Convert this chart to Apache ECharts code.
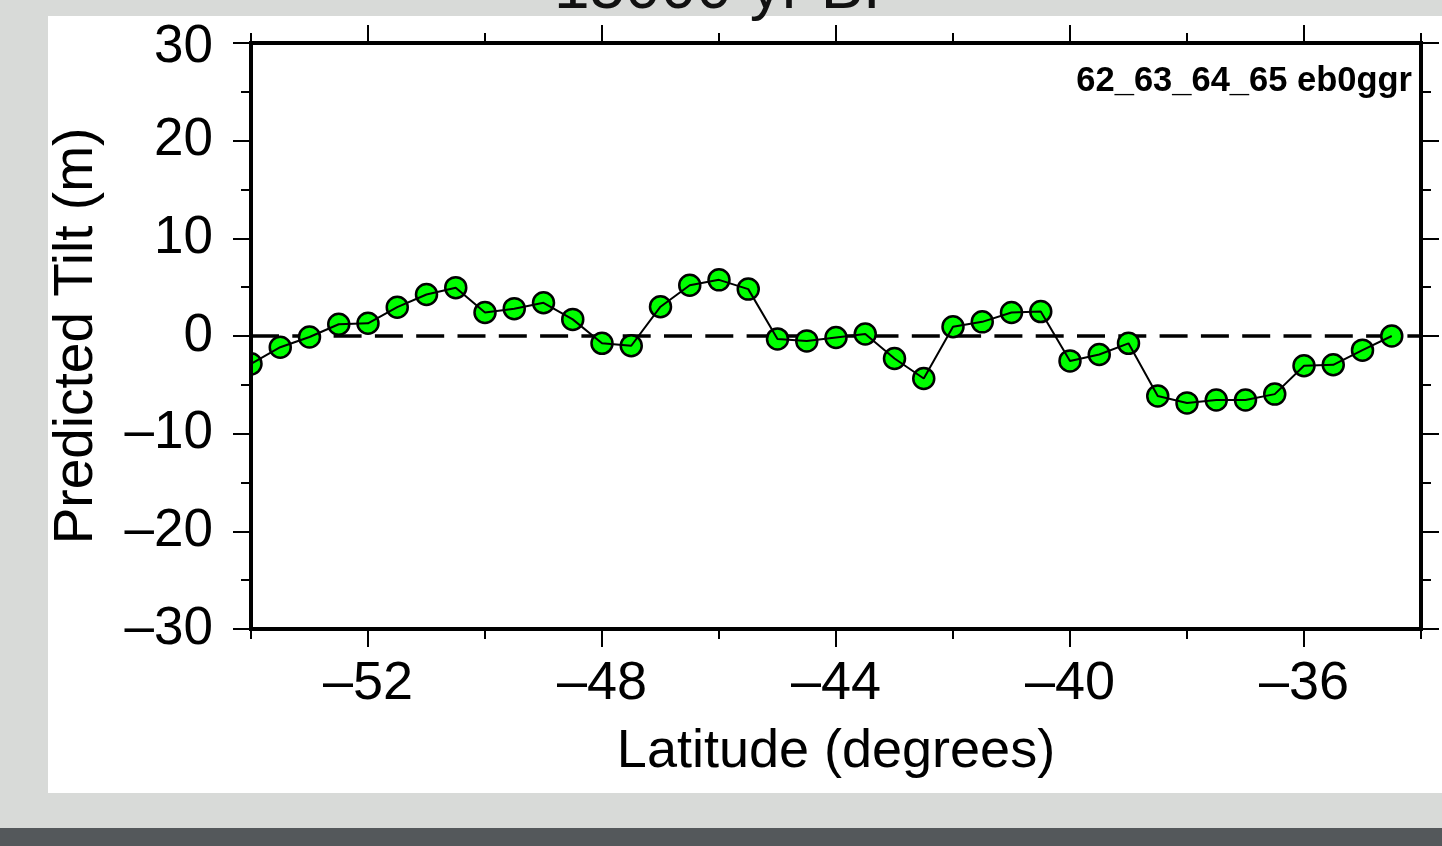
<!DOCTYPE html>
<html>
<head>
<meta charset="utf-8">
<title>Predicted Tilt</title>
<script src="https://cdn.jsdelivr.net/npm/echarts@6/dist/echarts.min.js"></script>
<style>
  html, body { margin: 0; padding: 0; width: 1442px; height: 846px; overflow: hidden; background: #d8dad8; }
  #panel { position: absolute; left: 48px; top: 16px; width: 1394px; height: 777px; background: #fff; }
  #bar { position: absolute; left: 0; top: 828px; width: 1442px; height: 18px; background: #54585b; }
  #chart { position: absolute; left: 0; top: 0; width: 1442px; height: 846px; }
</style>
</head>
<body>
<div id="panel"></div>
<div id="bar"></div>
<div id="chart"></div>
<script>
// latitude of each sample (degrees)
const lat = [
  -54, -53.5, -53, -52.5, -52, -51.5, -51, -50.5, -50, -49.5,
  -49, -48.5, -48, -47.5, -47, -46.5, -46, -45.5, -45, -44.5,
  -44, -43.5, -43, -42.5, -42, -41.5, -41, -40.5, -40, -39.5,
  -39, -38.5, -38, -37.5, -37, -36.5, -36, -35.5, -35, -34.5
];
// predicted tilt (m)
const tilt = [
  -2.85, -1.15, -0.1, 1.2, 1.3, 2.95, 4.25, 4.95, 2.4, 2.8,
  3.4, 1.7, -0.75, -1.0, 3.0, 5.2, 5.75, 4.8, -0.3, -0.5,
  -0.15, 0.2, -2.3, -4.35, 0.95, 1.45, 2.4, 2.5, -2.55, -1.9,
  -0.75, -6.15, -6.85, -6.55, -6.55, -5.95, -3.05, -2.95, -1.45, 0.0
];
const zeroLine = [[-54, 0], [-34, 0]];
const majorLat = [-52, -48, -44, -40, -36];

const FONT = '"Liberation Sans", Arial, Helvetica, sans-serif';
const dash = (v) => String(v).replace("-", "\u2013");

const chart = echarts.init(document.getElementById("chart"), null, { renderer: "canvas" });

const frameLine = { show: true, onZero: false, lineStyle: { color: "#000", width: 4, cap: "square" } };
const noLine = { show: false, onZero: false };

const xBase = {
  type: "value", min: -54, max: -34, interval: 2, z: 10,
  splitLine: { show: false }
};

const getOption = () => {
  return {
    backgroundColor: "transparent",
    animation: false,
    grid: { left: 251, right: 21, top: 43, bottom: 217, containLabel: false, outerBoundsMode: "none" },
    xAxis: [
      Object.assign({}, xBase, {
        position: "bottom",
        axisLine: frameLine,
        axisTick: { length: 10, lineStyle: { color: "#000", width: 2 } },
        axisLabel: {
          customValues: majorLat, margin: 28, color: "#000",
          fontFamily: FONT, fontSize: 54, formatter: dash
        }
      }),
      Object.assign({}, xBase, {
        position: "bottom",
        axisLine: noLine,
        axisTick: { customValues: majorLat, length: 18, lineStyle: { color: "#000", width: 2 } },
        axisLabel: { show: false }
      }),
      Object.assign({}, xBase, {
        position: "top",
        axisLine: frameLine,
        axisTick: { length: 10, lineStyle: { color: "#000", width: 2 } },
        axisLabel: { show: false }
      }),
      Object.assign({}, xBase, {
        position: "top",
        axisLine: noLine,
        axisTick: { customValues: majorLat, length: 18, lineStyle: { color: "#000", width: 2 } },
        axisLabel: { show: false }
      })
    ],
    yAxis: [
      {
        type: "value", position: "left", min: -30, max: 30, interval: 10, z: 10,
        axisLine: frameLine,
        axisTick: { length: 18, lineStyle: { color: "#000", width: 2 } },
        minorTick: { show: true, splitNumber: 2, length: 10, lineStyle: { color: "#000", width: 2 } },
        splitLine: { show: false },
        axisLabel: {
          margin: 38, color: "#000", fontFamily: FONT, fontSize: 53,
          // the top label sits a little lower in the original
          formatter: (v) => (v === 30 ? "{top|30}" : dash(v)),
          rich: { top: { fontFamily: FONT, fontSize: 53, color: "#000", padding: [8, 0, 0, 0] } }
        }
      },
      {
        type: "value", position: "right", min: -30, max: 30, interval: 10, z: 10,
        axisLine: frameLine,
        axisTick: { length: 18, lineStyle: { color: "#000", width: 2 } },
        minorTick: { show: true, splitNumber: 2, length: 10, lineStyle: { color: "#000", width: 2 } },
        splitLine: { show: false },
        axisLabel: { show: false }
      }
    ],
    graphic: [
      {
        // white mask: the original clips symbols at the frame's left edge
        type: "rect", z: 5, silent: true,
        shape: { x: 236, y: 346, width: 13, height: 36 },
        style: { fill: "#fff" }
      },
      {
        type: "text", x: 730, y: -10, silent: true,
        style: { text: "15000 yr BP", fill: "#111", font: "64px " + FONT, textAlign: "center", textVerticalAlign: "middle" }
      },
      {
        type: "text", x: 836, y: 752, silent: true,
        style: { text: "Latitude (degrees)", fill: "#000", font: "54px " + FONT, textAlign: "center", textVerticalAlign: "middle" }
      },
      {
        type: "text", x: 77, y: 336, rotation: Math.PI / 2, silent: true,
        style: { text: "Predicted Tilt (m)", fill: "#000", font: "55px " + FONT, textAlign: "center", textVerticalAlign: "middle" }
      },
      {
        type: "text", x: 1412, y: 81, silent: true,
        style: { text: "62_63_64_65 eb0ggr", fill: "#000", font: "bold 34.5px " + FONT, textAlign: "right", textVerticalAlign: "middle" }
      }
    ],
    series: [
      {
        name: "zero", type: "line", data: zeroLine, xAxisIndex: 0, yAxisIndex: 0,
        showSymbol: false, silent: true, z: 1,
        lineStyle: { color: "#000", width: 3.5, type: [28, 13.3] }
      },
      {
        name: "points", type: "scatter", xAxisIndex: 0, yAxisIndex: 0, z: 2, clip: true,
        data: lat.map((x, i) => [x, tilt[i]]),
        symbol: "circle", symbolSize: 21,
        itemStyle: { color: "#00ff00", borderColor: "#000", borderWidth: 2.5, opacity: 1 }
      },
      {
        name: "tilt", type: "line", xAxisIndex: 0, yAxisIndex: 0, z: 3,
        data: lat.map((x, i) => [x, tilt[i]]),
        showSymbol: false, silent: true,
        lineStyle: { color: "#000", width: 2 }
      }
    ]
  };
};

chart.setOption(getOption());
</script>
</body>
</html>
